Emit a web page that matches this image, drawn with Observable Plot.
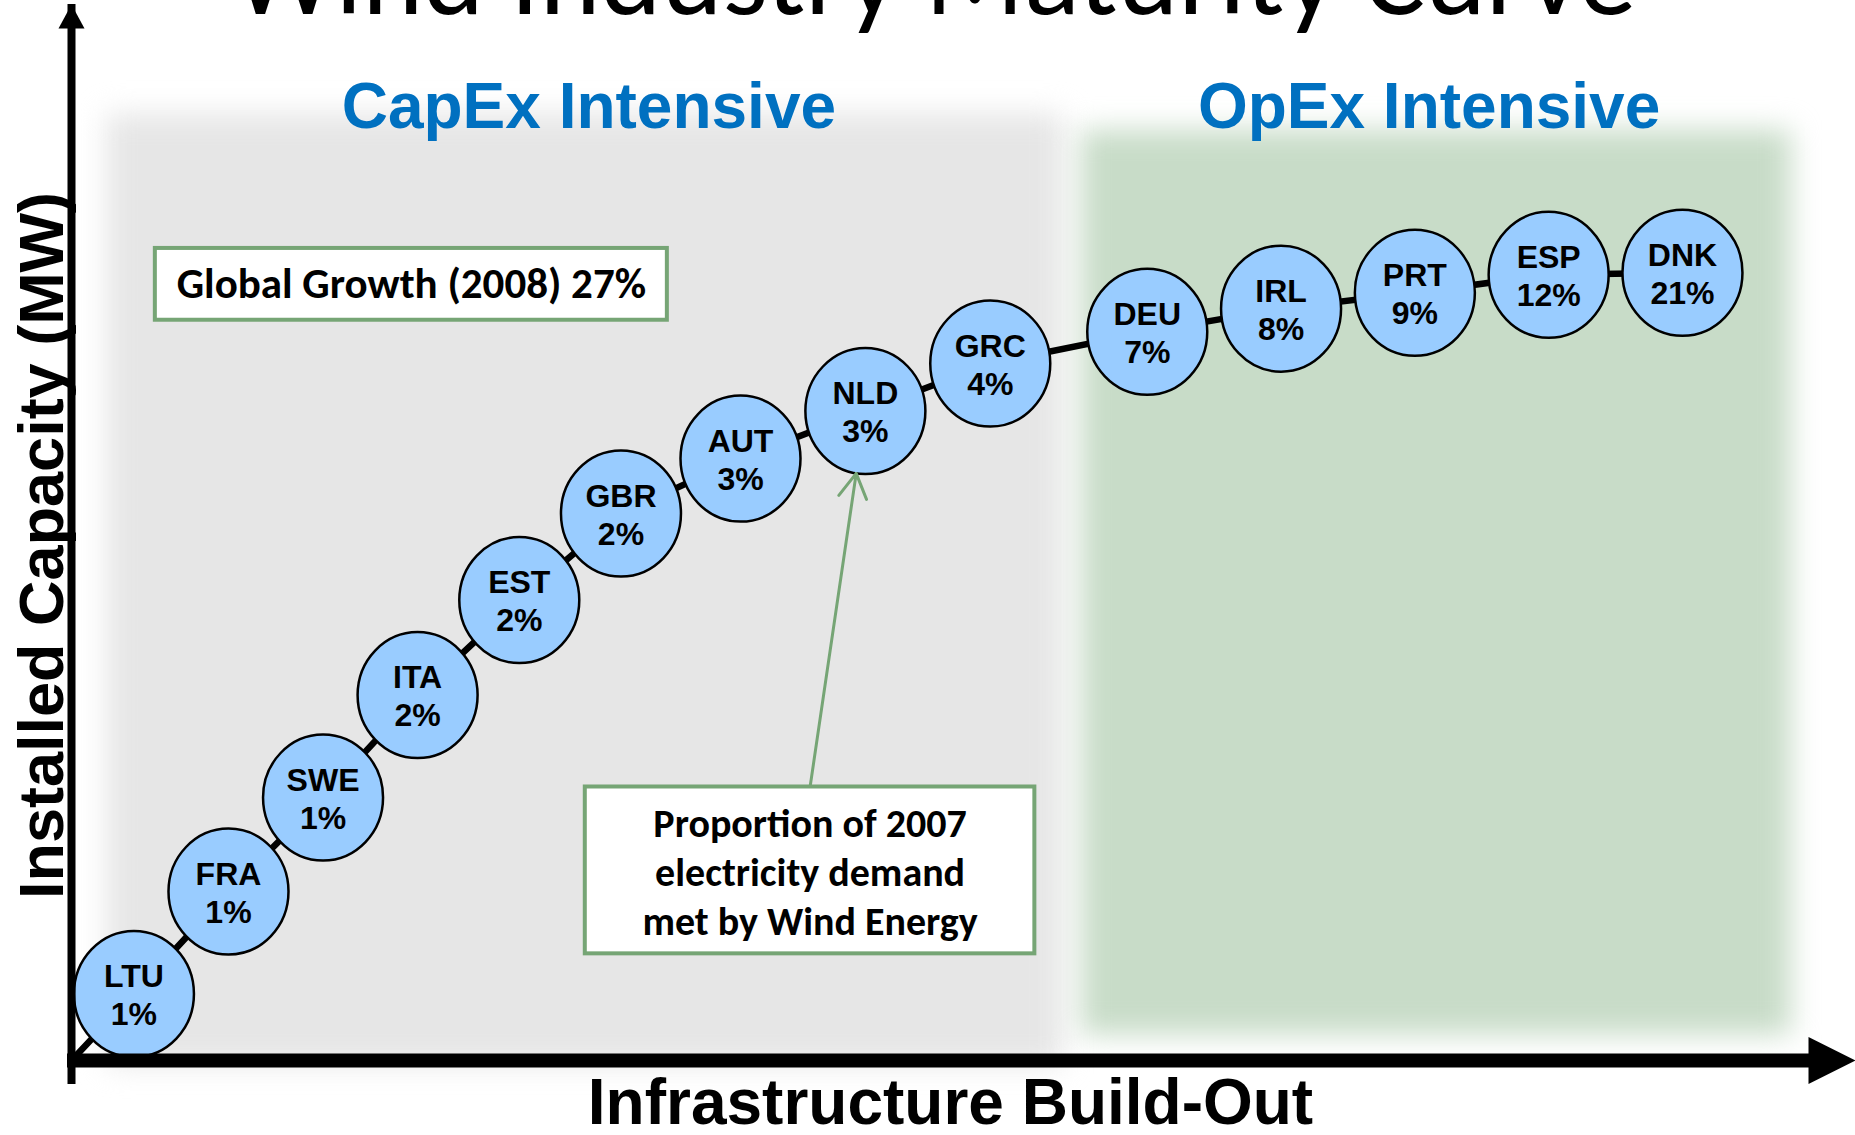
<!DOCTYPE html>
<html><head><meta charset="utf-8">
<script src="https://cdn.jsdelivr.net/npm/d3@7"></script>
<script src="https://cdn.jsdelivr.net/npm/@observablehq/plot@0.6"></script>
<style>
html,body{margin:0;padding:0;background:#fff;}
#chart{width:1855px;height:1135px;overflow:hidden;}
</style>
</head><body><div id="chart"></div>
<script>
// ---- data ----
const countries = ["LTU","FRA","SWE","ITA","EST","GBR","AUT","NLD","GRC","DEU","IRL","PRT","ESP","DNK"];
const shares    = ["1%","1%","1%","2%","2%","2%","3%","3%","4%","7%","8%","9%","12%","21%"];
const buildOut  = [3.5, 8.8, 14.1, 19.4, 25.1, 30.8, 37.5, 44.5, 51.5, 60.3, 67.8, 75.3, 82.8, 90.3];
const capacity  = [6.3, 16.0, 24.9, 34.6, 43.6, 51.8, 57.0, 61.5, 66.0, 69.0, 71.2, 72.7, 74.4, 74.6];

const phaseLabels = ["CapEx Intensive", "OpEx Intensive"];
const phaseLabelX = [29.0, 76.1];
const phaseLabelY = 90.2;
const phaseStart  = [2.0, 56.6];
const phaseEnd    = [55.6, 96.4];
const phaseBottom = [-0.5, 2.4];
const phaseTop    = [89.6, 88.1];

const titleText = "Wind Industry Maturity Curve";
const xLabel = "Infrastructure Build-Out";
const yLabel = "Installed Capacity (MW)";

const growthNote = "Global Growth (2008) 27%";
const growthBox = {x1: 4.7, x2: 33.4, y1: 70.1, y2: 76.9};
const demandNote = "Proportion of 2007\nelectricity demand\nmet by Wind Energy";
const demandBox = {x1: 28.8, x2: 54.0, y1: 10.1, y2: 25.9};
const demandTarget = "NLD";

// ---- derived tables ----
const points = countries.map((c, i) => ({country: c, share: shares[i], x: buildOut[i], y: capacity[i], label: c + "\n" + shares[i]}));
const curve = [{x: 0, y: 0}, ...points];
const phases = phaseLabels.map((l, i) => ({label: l, x1: phaseStart[i], x2: phaseEnd[i], y1: phaseBottom[i], y2: phaseTop[i], xc: phaseLabelX[i], yc: phaseLabelY}));
const target = points.find(d => d.country === demandTarget);
const demandArrow = [{x1: (demandBox.x1 + demandBox.x2) / 2, y1: demandBox.y2, x2: target.x, y2: target.y}];

// ---- symbols ----
const ellipse = {draw(ctx, size) {
  const r = Math.sqrt(size / Math.PI), rx = r, ry = r * 63 / 60, k = 0.5522847498;
  ctx.moveTo(rx, 0);
  ctx.bezierCurveTo(rx, ry * k, rx * k, ry, 0, ry);
  ctx.bezierCurveTo(-rx * k, ry, -rx, ry * k, -rx, 0);
  ctx.bezierCurveTo(-rx, -ry * k, -rx * k, -ry, 0, -ry);
  ctx.bezierCurveTo(rx * k, -ry, rx, -ry * k, rx, 0);
  ctx.closePath();
}};
const headRight = {draw(ctx, size) {
  const r = Math.sqrt(size / Math.PI);
  ctx.moveTo(r, 0); ctx.lineTo(-r, -r); ctx.lineTo(-r, r); ctx.closePath();
}};
const headUp = {draw(ctx, size) {
  const r = Math.sqrt(size / Math.PI), w = r * 13 / 12;
  ctx.moveTo(0, -r); ctx.lineTo(w, r); ctx.lineTo(-w, r); ctx.closePath();
}};

const ARIAL = "'Liberation Sans', Arial, Helvetica, sans-serif";
const CALIBRI = "Carlito, Calibri, Lato, sans-serif";
const GREEN = "#76A575";

const chart = Plot.plot({
  width: 1855, height: 1135,
  marginLeft: 71, marginRight: 0, marginTop: 4, marginBottom: 75,
  x: {domain: [0, 100], axis: null},
  y: {domain: [0, 100], axis: null},
  style: {background: "white", overflow: "visible"},
  marks: [
    Plot.rect([phases[0]], {x1: "x1", x2: "x2", y1: "y1", y2: "y2", fill: "#E6E6E6"}),
    Plot.rect([phases[1]], {x1: "x1", x2: "x2", y1: "y1", y2: "y2", fill: "#C8DCC8"}),
    Plot.text(phases, {x: "xc", y: "yc", text: "label", fill: "#0070C0", fontSize: 64, fontWeight: "bold", fontFamily: ARIAL, lineAnchor: "middle"}),
    Plot.line(curve, {x: "x", y: "y", stroke: "black", strokeWidth: 6.5}),
    Plot.dot(points, {x: "x", y: "y", r: 60, symbol: ellipse, fill: "#99CCFF", stroke: "black", strokeWidth: 2.5}),
    Plot.text(points, {x: "x", y: "y", text: "label", fontSize: 32, fontWeight: "bold", fontFamily: ARIAL, fill: "black", lineAnchor: "middle", lineHeight: 1.19, dy: 0}),
    Plot.arrow(demandArrow, {x1: "x1", y1: "y1", x2: "x2", y2: "y2", stroke: GREEN, strokeWidth: 3, headLength: 14, insetEnd: 63}),
    Plot.rect([growthBox, demandBox], {x1: "x1", x2: "x2", y1: "y1", y2: "y2", fill: "white", stroke: GREEN, strokeWidth: 4}),
    Plot.text([growthNote], {x: (growthBox.x1 + growthBox.x2) / 2, y: (growthBox.y1 + growthBox.y2) / 2, text: d => d, fontSize: 43, fontWeight: "bold", fontFamily: CALIBRI, fill: "black", lineAnchor: "middle"}),
    Plot.text([demandNote], {x: (demandBox.x1 + demandBox.x2) / 2, y: 17.97, text: d => d, fontSize: 40, fontWeight: "bold", fontFamily: CALIBRI, fill: "black", lineAnchor: "middle", lineHeight: 1.225}),
    Plot.ruleY([0], {x1: 0, x2: 100, insetRight: 45, insetLeft: -4, stroke: "black", strokeWidth: 14}),
    Plot.ruleX([0], {y1: 0, y2: 100, insetTop: 24, stroke: "black", strokeWidth: 8}),
    Plot.dot([{x: 100, y: 0}], {x: "x", y: "y", r: 23.5, symbol: headRight, fill: "black", dx: -23.5}),
    Plot.dot([{x: 0, y: 100}], {x: "x", y: "y", r: 12, symbol: headUp, fill: "black", dy: 12}),
    Plot.text([xLabel], {x: 49.27, y: -4.05, text: d => d, fontSize: 64, fontWeight: "bold", fontFamily: ARIAL, fill: "black", lineAnchor: "middle"}),
    Plot.text([yLabel], {x: -1.58, y: 48.77, text: d => d, rotate: -90, fontSize: 63, fontWeight: "bold", fontFamily: ARIAL, fill: "black", lineAnchor: "middle"}),
    Plot.text([titleText], {x: 48.37, y: 102.6, text: d => d, fontSize: 116, fontFamily: CALIBRI, fill: "black", lineAnchor: "middle"})
  ]
});
const rects = chart.querySelectorAll('g[aria-label="rect"]');
if (rects[0]) rects[0].style.filter = "blur(14px)";
if (rects[1]) rects[1].style.filter = "blur(14px)";
document.getElementById("chart").appendChild(chart);
</script>
</body></html>
